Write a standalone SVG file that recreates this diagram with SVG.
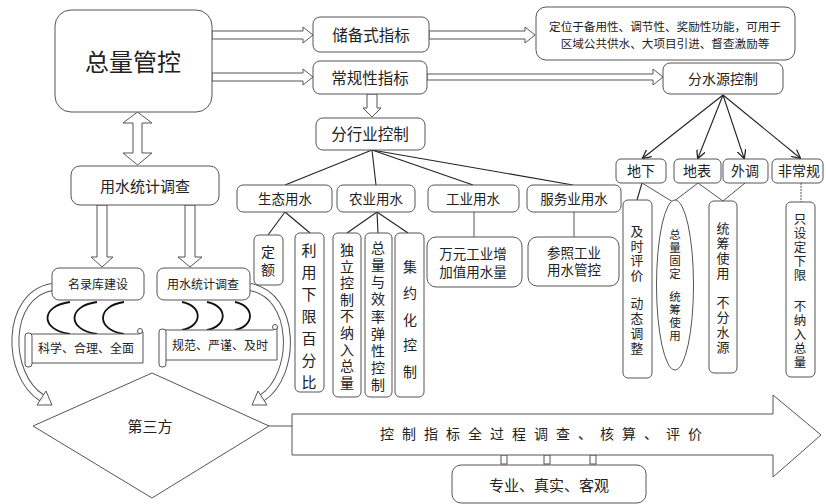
<svg xmlns="http://www.w3.org/2000/svg" width="826" height="504" viewBox="0 0 826 504">
<defs>
<style>
.b{fill:#fff;stroke:#555;stroke-width:1}
.t{font-family:"Liberation Sans","Noto Sans CJK SC",sans-serif;fill:#222;text-anchor:middle;dominant-baseline:central}
.ba{fill:#fff;stroke:#555;stroke-width:1;stroke-linejoin:miter}
.ln{stroke:#222;stroke-width:1.1;fill:none}
.lg{stroke:#555;stroke-width:1;fill:none}
.br{stroke:#111;stroke-width:1.8;fill:none}
</style>
<marker id="ah" viewBox="0 0 10 10" refX="9" refY="5" markerWidth="9" markerHeight="9" orient="auto" markerUnits="userSpaceOnUse">
<path d="M0,0 L10,5 L0,10" fill="none" stroke="#222" stroke-width="1.4"/>
</marker>
</defs>
<rect width="826" height="504" fill="#fff"/>

<g id="connectors">
<polygon class="ba" points="212,31 303,31 303,27 313,35 303,43 303,39 212,39"/>
<polygon class="ba" points="212,73 303,73 303,69 313,77 303,85 303,81 212,81"/>
<polygon class="ba" points="429,31 525,31 525,27 535,35 525,43 525,39 429,39"/>
<polygon class="ba" points="427,74 653,74 653,69 663,77 653,85 653,80 427,80"/>
<polygon class="ba" points="367,94 377,94 377,108 381,108 372,117 363,108 367,108"/>
<polygon class="ba" points="137.5,112 152,123 142,123 142,153 152,153 137.5,165 123,153 133,153 133,123 123,123"/>
<polygon class="ba" points="97,205 107,205 107,257 113,257 102,267 91,257 97,257"/>
<polygon class="ba" points="185,205 195,205 195,257 202,257 190,267 178,257 185,257"/>
<path d="M52,287 C5,295 5,375 42,398" stroke="#555" stroke-width="8" fill="none"/>
<path d="M52,287 C5,295 5,375 42,398" stroke="#fff" stroke-width="6" fill="none"/>
<polygon class="ba" points="52,405 37,405 46,391"/>
<path d="M250,287 C297,295 297,375 262,398" stroke="#555" stroke-width="8" fill="none"/>
<path d="M250,287 C297,295 297,375 262,398" stroke="#fff" stroke-width="6" fill="none"/>
<polygon class="ba" points="252,405 267,405 258,391"/>
<path class="br" d="M70,302 C40,306 40,330 70,334"/>
<path class="br" d="M97,302 C67,306 67,330 97,334"/>
<path class="br" d="M124,302 C96,306 96,330 124,334"/>
<path class="br" d="M182,302 C203,306 203,326 182,330"/>
<path class="br" d="M207,302 C228,306 228,326 207,330"/>
<path class="br" d="M235,302 C255,306 255,326 235,330"/>
<line class="ln" x1="372" y1="150" x2="285" y2="185"/>
<line class="ln" x1="372" y1="150" x2="376" y2="185"/>
<line class="ln" x1="372" y1="150" x2="473" y2="185"/>
<line class="ln" x1="372" y1="150" x2="573" y2="185"/>
<line class="ln" x1="285" y1="212" x2="268" y2="235"/>
<line class="ln" x1="285" y1="212" x2="310" y2="233"/>
<line class="ln" x1="377" y1="212" x2="347" y2="233"/>
<line class="ln" x1="377" y1="212" x2="378" y2="233"/>
<line class="ln" x1="377" y1="212" x2="408" y2="233"/>
<line class="lg" x1="474" y1="212" x2="474" y2="237"/>
<line class="lg" x1="574" y1="212" x2="574" y2="237"/>
<line class="ln" x1="723" y1="95" x2="643" y2="158" marker-end="url(#ah)"/>
<line class="ln" x1="723" y1="95" x2="698" y2="158" marker-end="url(#ah)"/>
<line class="ln" x1="723" y1="95" x2="744" y2="158" marker-end="url(#ah)"/>
<line class="ln" x1="723" y1="95" x2="800" y2="158" marker-end="url(#ah)"/>
<line class="ln" x1="642" y1="183" x2="637" y2="200"/>
<line class="lg" x1="642" y1="183" x2="673" y2="202"/>
<line class="lg" x1="698" y1="183" x2="673" y2="202"/>
<line class="lg" x1="698" y1="183" x2="723" y2="201"/>
<line class="lg" x1="745" y1="183" x2="723" y2="201"/>
<line class="lg" x1="801" y1="183" x2="801" y2="202" stroke-dasharray="2 1"/>
<line class="lg" x1="269" y1="426" x2="292" y2="426"/>
<rect class="b" x="501" y="455" width="6" height="9"/>
<rect class="b" x="544" y="455" width="6" height="9"/>
<rect class="b" x="590" y="455" width="6" height="9"/>
</g>

<g id="n-total"><rect class="b" x="55" y="10" width="157" height="102" rx="16"/><text class="t" x="133" y="62" font-size="24">总量管控</text></g>
<g id="n-reserve"><rect class="b" x="313" y="17" width="116" height="35" rx="7"/><text class="t" x="371" y="35" font-size="15.5">储备式指标</text></g>
<g id="n-regular"><rect class="b" x="313" y="61" width="114" height="33" rx="7"/><text class="t" x="370" y="78" font-size="15.5">常规性指标</text></g>
<g id="n-position"><rect class="b" x="536" y="7" width="259" height="53" rx="10"/>
<text class="t" x="665" y="26" font-size="11.6">定位于备用性、调节性、奖励性功能，可用于</text>
<text class="t" x="665" y="43" font-size="11.6">区域公共供水、大项目引进、督查激励等</text></g>
<g id="n-source"><rect class="b" x="663" y="63" width="120" height="31" rx="7"/><text class="t" x="723" y="79" font-size="14">分水源控制</text></g>
<g id="n-industry"><rect class="b" x="316" y="118" width="109" height="32" rx="7"/><text class="t" x="370" y="134" font-size="15.5">分行业控制</text></g>
<g id="n-eco"><rect class="b" x="237" y="185" width="95" height="27" rx="6"/><text class="t" x="285" y="199" font-size="13.5">生态用水</text></g>
<g id="n-agri"><rect class="b" x="337" y="185" width="78" height="27" rx="6"/><text class="t" x="376" y="199" font-size="13.5">农业用水</text></g>
<g id="n-ind"><rect class="b" x="428" y="185" width="91" height="27" rx="6"/><text class="t" x="473" y="199" font-size="13.5">工业用水</text></g>
<g id="n-serv"><rect class="b" x="527" y="185" width="94" height="27" rx="6"/><text class="t" x="574" y="199" font-size="13.5">服务业用水</text></g>
<g id="n-under"><rect class="b" x="616" y="159" width="50" height="24" rx="5"/><text class="t" x="641" y="171" font-size="14">地下</text></g>
<g id="n-surf"><rect class="b" x="674" y="159" width="47" height="24" rx="5"/><text class="t" x="697" y="171" font-size="14">地表</text></g>
<g id="n-ext"><rect class="b" x="723" y="159" width="45" height="24" rx="5"/><text class="t" x="745" y="171" font-size="14">外调</text></g>
<g id="n-unconv"><rect class="b" x="772" y="159" width="51" height="24" rx="5"/><text class="t" x="799" y="171" font-size="14">非常规</text></g>

<g id="n-quota"><rect class="b" x="254" y="235" width="29" height="50" rx="5"/>
<text class="t" font-size="14"><tspan x="268" y="252">定</tspan><tspan x="268" y="270">额</tspan></text></g>
<g id="n-lowlimit"><rect class="b" x="295" y="233" width="29" height="159" rx="5"/>
<text class="t" font-size="15"><tspan x="309" y="250">利</tspan><tspan x="309" y="272">用</tspan><tspan x="309" y="294">下</tspan><tspan x="309" y="316">限</tspan><tspan x="309" y="338">百</tspan><tspan x="309" y="360">分</tspan><tspan x="309" y="382">比</tspan></text></g>
<g id="n-indep"><rect class="b" x="333" y="233" width="28" height="164" rx="5"/>
<text class="t" font-size="14"><tspan x="347" y="250">独</tspan><tspan x="347" y="267">立</tspan><tspan x="347" y="283">控</tspan><tspan x="347" y="300">制</tspan><tspan x="347" y="316">不</tspan><tspan x="347" y="333">纳</tspan><tspan x="347" y="350">入</tspan><tspan x="347" y="366">总</tspan><tspan x="347" y="383">量</tspan></text></g>
<g id="n-elastic"><rect class="b" x="365" y="233" width="27" height="164" rx="5"/>
<text class="t" font-size="14"><tspan x="378" y="248">总</tspan><tspan x="378" y="265">量</tspan><tspan x="378" y="282">与</tspan><tspan x="378" y="299">效</tspan><tspan x="378" y="317">率</tspan><tspan x="378" y="334">弹</tspan><tspan x="378" y="351">性</tspan><tspan x="378" y="368">控</tspan><tspan x="378" y="385">制</tspan></text></g>
<g id="n-intens"><rect class="b" x="395" y="233" width="29" height="164" rx="5"/>
<text class="t" font-size="14"><tspan x="410" y="267">集</tspan><tspan x="410" y="293">约</tspan><tspan x="410" y="320">化</tspan><tspan x="410" y="345">控</tspan><tspan x="410" y="372">制</tspan></text></g>
<g id="n-wanyuan"><rect class="b" x="427" y="237" width="95" height="50" rx="9"/>
<text class="t" x="473" y="254" font-size="13.5">万元工业增</text><text class="t" x="473" y="272" font-size="13.5">加值用水量</text></g>
<g id="n-ref"><rect class="b" x="528" y="237" width="91" height="49" rx="9"/>
<text class="t" x="574" y="253" font-size="13.5">参照工业</text><text class="t" x="574" y="270" font-size="13.5">用水管控</text></g>

<g id="n-timely"><rect class="b" x="623" y="200" width="29" height="178" rx="5"/>
<text class="t" font-size="12.8"><tspan x="637" y="231">及</tspan><tspan x="637" y="245.5">时</tspan><tspan x="637" y="260">评</tspan><tspan x="637" y="274.5">价</tspan><tspan x="637" y="303">动</tspan><tspan x="637" y="318">态</tspan><tspan x="637" y="333">调</tspan><tspan x="637" y="348">整</tspan></text></g>
<g id="n-fixed"><ellipse class="b" cx="675" cy="285" rx="18.5" ry="85"/>
<text class="t" font-size="11.5"><tspan x="675" y="235">总</tspan><tspan x="675" y="248">量</tspan><tspan x="675" y="261">固</tspan><tspan x="675" y="274">定</tspan><tspan x="675" y="297">统</tspan><tspan x="675" y="310">筹</tspan><tspan x="675" y="323">使</tspan><tspan x="675" y="336">用</tspan></text></g>
<g id="n-unified"><rect class="b" x="709" y="201" width="28" height="172" rx="5"/>
<text class="t" font-size="13"><tspan x="723" y="228">统</tspan><tspan x="723" y="243">筹</tspan><tspan x="723" y="258">使</tspan><tspan x="723" y="273">用</tspan><tspan x="723" y="302">不</tspan><tspan x="723" y="317">分</tspan><tspan x="723" y="332">水</tspan><tspan x="723" y="347">源</tspan></text></g>
<g id="n-only"><rect class="b" x="786" y="202" width="29" height="175" rx="5"/>
<text class="t" font-size="12.5"><tspan x="800" y="220">只</tspan><tspan x="800" y="234">设</tspan><tspan x="800" y="248">定</tspan><tspan x="800" y="262">下</tspan><tspan x="800" y="276">限</tspan><tspan x="800" y="307">不</tspan><tspan x="800" y="321">纳</tspan><tspan x="800" y="335">入</tspan><tspan x="800" y="349">总</tspan><tspan x="800" y="363">量</tspan></text></g>

<g id="n-survey"><rect class="b" x="71" y="166" width="148" height="39" rx="9"/><text class="t" x="145" y="186" font-size="15">用水统计调查</text></g>
<g id="n-directory"><rect class="b" x="52" y="268" width="92" height="32" rx="7"/><text class="t" x="98" y="285" font-size="12">名录库建设</text></g>
<g id="n-survey2"><rect class="b" x="157" y="268" width="93" height="32" rx="7"/><text class="t" x="203" y="285" font-size="12">用水统计调查</text></g>
<g id="n-scroll1">
<path class="b" d="M30,334 L139,334 L143,332 L143,363 L30,363 Z"/>
<rect class="b" x="25" y="333" width="7" height="34" rx="3"/>
<circle class="b" cx="140" cy="331" r="2.5"/>
<text class="t" x="86" y="349" font-size="12">科学、合理、全面</text></g>
<g id="n-scroll2">
<path class="b" d="M164,330 L273,330 L277,328 L277,360 L164,360 Z"/>
<rect class="b" x="159" y="329" width="7" height="38" rx="3"/>
<circle class="b" cx="275" cy="327" r="2.5"/>
<text class="t" x="220" y="346" font-size="12">规范、严谨、及时</text></g>

<g id="n-third"><polygon class="b" points="33,426 152,373 269,426 152,498"/><text class="t" x="150" y="426" font-size="15">第三方</text></g>
<g id="n-process"><polygon class="b" points="292,414 773,414 773,395 821,435 773,477 773,455 292,455"/>
<text class="t" x="541" y="434" font-size="14" textLength="322" lengthAdjust="spacing">控 制 指 标 全 过 程 调 查 、 核 算 、 评 价</text></g>
<g id="n-pro"><rect class="b" x="452" y="465" width="194" height="38" rx="9"/><text class="t" x="549" y="485" font-size="15">专业、真实、客观</text></g>
</svg>
